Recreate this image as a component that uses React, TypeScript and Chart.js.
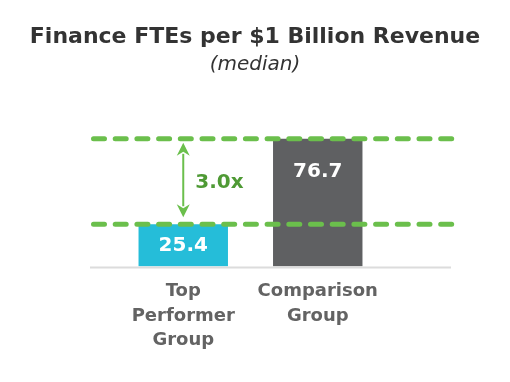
import React, { useEffect, useRef } from "react";
import { Chart, registerables } from "chart.js";

Chart.register(...registerables);

const categories: string[][] = [["Top", "Performer", "Group"], ["Comparison", "Group"]];
const values: number[] = [25.4, 76.7];
const barColors: string[] = ["#25bdd9", "#5f6062"];
const titleText = "Finance FTEs per $1 Billion Revenue";
const subtitleText = "(median)";

const FONT = "'DejaVu Sans', sans-serif";
const GREEN = "#6bbf4c";
const GREEN_TEXT = "#4f9a35";

const overlay = {
  id: "overlay",
  afterDraw(chart: any) {
    const { ctx, scales, width } = chart;
    const x = scales.x;
    const y = scales.y;
    const left = x.left - 25;
    const right = x.right + 67;
    ctx.save();

    // title + subtitle
    ctx.textAlign = "center";
    ctx.textBaseline = "middle";
    ctx.fillStyle = "#333333";
    ctx.font = `bold 22px ${FONT}`;
    ctx.fillText(titleText, width / 2, 37);
    ctx.font = `italic 20px ${FONT}`;
    ctx.fillText(subtitleText, width / 2, 65);

    // axis line
    ctx.strokeStyle = "#dcdcdc";
    ctx.lineWidth = 2;
    ctx.beginPath();
    ctx.moveTo(left - 1, y.getPixelForValue(0) + 1);
    ctx.lineTo(right - 1, y.getPixelForValue(0) + 1);
    ctx.stroke();

    // value labels inside bars
    const meta = chart.getDatasetMeta(0);
    ctx.fillStyle = "#ffffff";
    ctx.font = `bold 20px ${FONT}`;
    ctx.textAlign = "center";
    ctx.textBaseline = "middle";
    meta.data.forEach((bar: any, i: number) => {
      const h = bar.base - bar.y;
      const off = Math.min(h / 2, 33);
      ctx.fillText(values[i].toFixed(1), bar.x, bar.y + off);
    });

    // dashed reference lines
    const lo = Math.min(...values);
    const hi = Math.max(...values);
    const yHi = y.getPixelForValue(hi);
    const yLo = y.getPixelForValue(lo);
    ctx.strokeStyle = GREEN;
    ctx.lineWidth = 5;
    ctx.lineCap = "round";
    ctx.setLineDash([11, 10.7]);
    [yHi, yLo].forEach((yy) => {
      ctx.beginPath();
      ctx.moveTo(left + 2.5, yy);
      ctx.lineTo(right, yy);
      ctx.stroke();
    });
    ctx.setLineDash([]);
    ctx.lineCap = "butt";

    // double arrow
    const ax = meta.data[values.indexOf(lo)].x;
    const top = yHi + 4;
    const bot = yLo - 7;
    const ah = 13;
    const aw = 6.5;
    ctx.strokeStyle = GREEN;
    ctx.fillStyle = GREEN;
    ctx.lineWidth = 2;
    ctx.beginPath();
    ctx.moveTo(ax, top + ah - 2);
    ctx.lineTo(ax, bot - ah + 2);
    ctx.stroke();
    ctx.beginPath();
    ctx.moveTo(ax, top);
    ctx.lineTo(ax + aw, top + ah);
    ctx.lineTo(ax, top + ah - 4);
    ctx.lineTo(ax - aw, top + ah);
    ctx.closePath();
    ctx.fill();
    ctx.beginPath();
    ctx.moveTo(ax, bot);
    ctx.lineTo(ax + aw, bot - ah);
    ctx.lineTo(ax, bot - ah + 4);
    ctx.lineTo(ax - aw, bot - ah);
    ctx.closePath();
    ctx.fill();

    // ratio text
    ctx.fillStyle = GREEN_TEXT;
    ctx.font = `bold 20px ${FONT}`;
    ctx.textAlign = "left";
    ctx.textBaseline = "middle";
    ctx.fillText((hi / lo).toFixed(1) + "x", ax + 12, (yHi + yLo) / 2 + 1);
    ctx.restore();
  },
};

export default function App() {
  const ref = useRef<HTMLCanvasElement>(null);
  useEffect(() => {
    if (!ref.current) return;
    const chart = new Chart(ref.current, {
      type: "bar",
      data: {
        labels: categories,
        datasets: [
          {
            data: values,
            backgroundColor: barColors,
            barPercentage: 0.665,
            categoryPercentage: 1,
          },
        ],
      },
      options: {
        animation: false,
        responsive: false,
        maintainAspectRatio: false,
        layout: { padding: { left: 116, right: 125, top: 100, bottom: 16 } },
        plugins: {
          legend: { display: false },
          tooltip: { enabled: false },
          title: { display: false },
        },
        scales: {
          x: {
            grid: { display: false, drawTicks: false },
            border: { display: false },
            ticks: {
              color: "#636363",
              font: { family: FONT, size: 18, weight: "bold", lineHeight: 1.36 },
              padding: 13,
              maxRotation: 0,
              autoSkip: false,
            },
          },
          y: {
            display: false,
            min: 0,
            max: 100,
          },
        },
      },
      plugins: [overlay],
    });
    return () => chart.destroy();
  }, []);
  return (
    <div style={{ position: "fixed", left: 0, top: 0, width: 510, height: 382, background: "#fff" }}>
      <canvas ref={ref} width={510} height={382} style={{ display: "block" }} />
    </div>
  );
}
